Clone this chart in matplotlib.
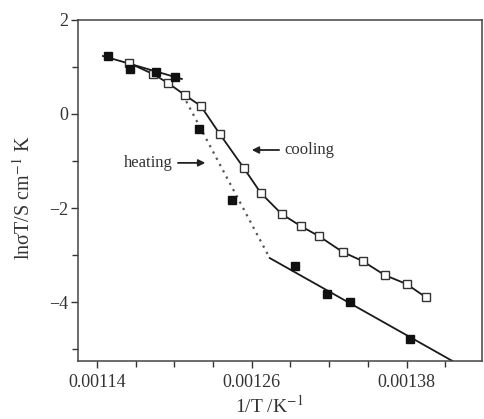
import matplotlib
matplotlib.use("Agg")
import matplotlib.pyplot as plt
from matplotlib.ticker import FixedLocator, FuncFormatter

# ---- data: ln(sigma*T) versus inverse temperature ----
cooling_x = [0.0011648, 0.0011834, 0.0011950, 0.0012081, 0.0012205, 0.0012352,
             0.0012538, 0.0012670, 0.0012832, 0.0012979, 0.0013119, 0.0013305,
             0.0013459, 0.0013630, 0.0013800, 0.0013947]
cooling_y = [1.085, 0.851, 0.660, 0.404, 0.170, -0.426,
             -1.149, -1.681, -2.128, -2.383, -2.596, -2.936,
             -3.128, -3.426, -3.617, -3.894]

heating_x = [0.0011485, 0.0011656, 0.0011857, 0.0012004, 0.0012190,
             0.0012445, 0.0012933, 0.0013181, 0.0013359, 0.0013823]
heating_y = [1.234, 0.957, 0.894, 0.787, -0.319,
             -1.830, -3.234, -3.830, -4.000, -4.787]

# guide lines for the heating run
heat_high_x = [0.0011446, 0.0012058]
heat_high_y = [1.234, 0.745]
heat_trans_x = [0.0012066, 0.0012739]
heat_trans_y = [0.404, -3.064]
heat_low_x = [0.0012739, 0.0014156]
heat_low_y = [-3.064, -5.255]

x_major = [0.00114, 0.00126, 0.00138]
x_minor = [0.00117, 0.00120, 0.00123, 0.00129, 0.00132, 0.00135, 0.00141, 0.00144]
y_major = [-4, -2, 0, 2]
y_minor = [-5, -3, -1, 1]

plt.rcParams["font.family"] = ["Liberation Serif", "DejaVu Serif"]
plt.rcParams["mathtext.fontset"] = "stix"

fig = plt.figure(figsize=(4.84, 4.19), dpi=100)
ax = fig.add_axes([0.1612, 0.1384, 0.8347, 0.8139])

ink = "#1a1a1a"
ax.plot(heat_high_x, heat_high_y, color=ink, lw=1.3)
ax.plot(heat_trans_x, heat_trans_y, color="#555555", lw=1.6, ls=(0, (1, 2.2)))
ax.plot(heat_low_x, heat_low_y, color=ink, lw=1.3)
ax.plot(cooling_x, cooling_y, color=ink, lw=1.3, marker="s", ms=5.3,
        mfc="white", mec="#333333", mew=1.0)
ax.plot(heating_x, heating_y, ls="none", marker="s", ms=5.3,
        mfc="#111111", mec="#111111")

ax.set_xlim(0.0011253, 0.0014385)
ax.set_ylim(-5.255, 2)

ax.xaxis.set_major_locator(FixedLocator(x_major))
ax.xaxis.set_minor_locator(FixedLocator(x_minor))
ax.yaxis.set_major_locator(FixedLocator(y_major))
ax.yaxis.set_minor_locator(FixedLocator(y_minor))
ax.xaxis.set_major_formatter(FuncFormatter(lambda v, p: f"{v:.5f}"))
ax.yaxis.set_major_formatter(FuncFormatter(lambda v, p: f"{v:.0f}".replace("-", "\u2212")))

ax.tick_params(which="both", direction="out", colors="#333333", labelcolor="#333333",
               labelsize=13, width=1.0)
ax.tick_params(which="major", length=5)
ax.tick_params(which="minor", length=4)
ax.tick_params(axis="x", pad=4)
ax.tick_params(axis="y", pad=2)

for s in ax.spines.values():
    s.set_color("#444444")
    s.set_linewidth(1.1)

ax.set_xlabel("1/T /K$^{-1}$", fontsize=14, color="#333333")
ax.set_ylabel("lnσT/S cm$^{-1}$ K", fontsize=14.5, color="#333333")
ax.xaxis.label.set_va("center")
ax.yaxis.label.set_va("center")
ax.xaxis.set_label_coords(0.473, -0.132)
ax.yaxis.set_label_coords(-0.134, 0.478)

ax.annotate("heating", xy=(0.0012240, -1.04), xytext=(0.0011985, -1.04),
            fontsize=12, color="#333333", ha="right", va="center",
            arrowprops=dict(arrowstyle="-|>", color="#222222", lw=1.3,
                            mutation_scale=10, shrinkA=2, shrinkB=0))
ax.annotate("cooling", xy=(0.0012600, -0.766), xytext=(0.0012855, -0.766),
            fontsize=12, color="#333333", ha="left", va="center",
            arrowprops=dict(arrowstyle="-|>", color="#222222", lw=1.3,
                            mutation_scale=10, shrinkA=2, shrinkB=0))

fig.savefig("out.png", dpi=100)
